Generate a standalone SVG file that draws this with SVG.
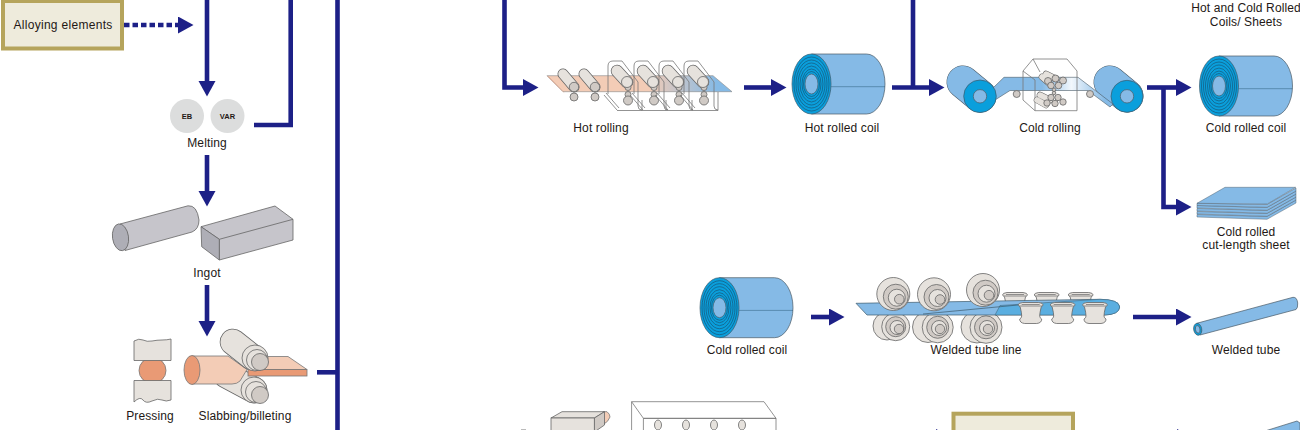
<svg xmlns="http://www.w3.org/2000/svg" xmlns:xlink="http://www.w3.org/1999/xlink" width="1300" height="430" viewBox="0 0 1300 430">
<style>
text{font-family:"Liberation Sans",Arial,sans-serif;font-size:12px;fill:#231815;text-anchor:middle;letter-spacing:.12px}
.sm{font-size:7.5px;font-weight:bold;letter-spacing:0}
.c{fill:none;stroke:#1d2087;stroke-width:4.6}
.a{marker-end:url(#h)}
.box{fill:#eeebdc;stroke:#b5a45c;stroke-width:4}
.gr{fill:#c6c5cb;stroke:#666;stroke-width:.8;stroke-linejoin:round}
.gd{fill:#aeaeb6;stroke:#666;stroke-width:.8;stroke-linejoin:round}
.lt{fill:#e6e2dd;stroke:#666;stroke-width:.8}
.rd{fill:#d0cac5;stroke:#666;stroke-width:.8}
.sa{fill:#f3ccb6;stroke:#777;stroke-width:.8;stroke-linejoin:round}
.sd{fill:#e99a75;stroke:#777;stroke-width:.8}
.bl{fill:#85bae6;stroke:#4a5a66;stroke-width:.7;stroke-linejoin:round}
.ly{fill:#85bae6;stroke:#4a5a66;stroke-width:.45;stroke-linejoin:round}
.cy{fill:#0a9fdc;stroke:#3d5a6b;stroke-width:.7}
.rg{fill:none;stroke:#1a4a66;stroke-width:.6}
.ol{fill:none;stroke:#666;stroke-linecap:round}
.il{fill:none;stroke:#e6e2dd;stroke-linecap:round}
.bo{fill:none;stroke:#4a5a66;stroke-linecap:round}
.bi{fill:none;stroke:#85bae6;stroke-linecap:round}
.fr{fill:none;stroke:#777;stroke-width:.8;stroke-linejoin:round}
</style>
<defs>
<marker id="h" markerUnits="userSpaceOnUse" markerWidth="16" markerHeight="18" refX="0" refY="8.5" orient="auto"><path d="M0,0L15.5,8.5L0,17Z" fill="#1d2087"/></marker>
<linearGradient id="hs" gradientUnits="userSpaceOnUse" x1="547" y1="0" x2="732" y2="0"><stop offset=".55" stop-color="#f3ccb6"/><stop offset=".92" stop-color="#85bae6"/></linearGradient>
<linearGradient id="cs" gradientUnits="userSpaceOnUse" x1="1000" y1="0" x2="1105" y2="0"><stop offset=".4" stop-color="#85bae6"/><stop offset=".68" stop-color="#f2f7fc"/><stop offset="1" stop-color="#85bae6"/></linearGradient>
<g id="coil">
<path class="bl" d="M0,-30H55A18.500,30 0 0 1 55,30H0Z"/>
<path class="rg" d="M19.500,2.700H73.500" stroke-opacity=".7"/>
<ellipse class="cy" rx="19.500" ry="30"/>
<ellipse class="rg" rx="17.500" ry="27"/><ellipse class="rg" rx="15.500" ry="24"/><ellipse class="rg" rx="13.500" ry="21"/><ellipse class="rg" rx="11.500" ry="18"/><ellipse class="rg" rx="9.500" ry="15"/><ellipse class="rg" rx="8" ry="12.500"/>
<ellipse class="bl" rx="6.500" ry="10"/>
</g>
<g id="stand">
<path class="fr" d="M0,33V5Q0,0 5,0H14L30,21M30,21V45Q30,49 34,49M-4,34L9,49M-2,32L11,47"/>
<path class="ol" stroke-width="12.500" d="M9,10L19,21"/><path class="il" stroke-width="11" d="M9,10L19,21"/>
<circle class="rd" cx="20" cy="26.500" r="3"/><circle class="rd" cx="20" cy="33.500" r="3"/>
<circle class="rd" cx="20" cy="39.500" r="4.500"/>
<circle class="lt" cx="19" cy="21" r="5.500"/>
</g>
<g id="wr">
<circle class="lt" r="16.500"/><circle class="rd" cx="2.500" cy="2.700" r="12.500"/><circle class="lt" cx="3.500" cy="3.700" r="8.500"/><circle class="rd" cx="6" cy="5.200" r="4.800"/>
</g>
<g id="sp">
<path class="lt" d="M-12.500,-8Q-12.500,-10 -8,-10.500H8Q12.500,-10 12.500,-8L10.500,-6Q9,0 9,3Q9,5 11,6Q11,10 6,10.500H-6Q-11,10 -11,6Q-9,5 -9,3Q-9,0 -10.500,-6Z"/>
<path class="fr" d="M-11.500,-7H11.500M-9,-8.500H9"/>
</g>
</defs>

<g id="connectors">
<path class="c a" stroke-dasharray="5.500 3" d="M124,25H178"/>
<path class="c a" d="M207,0V81"/>
<path class="c" d="M254,125H290.700V0"/>
<path class="c" d="M337.500,0V430"/>
<path class="c a" d="M207,155V191"/>
<path class="c a" d="M207,285V321"/>
<path class="c" d="M317,372.300H337.500"/>
<path class="c a" d="M504.500,0V87.500H523"/>
<path class="c a" d="M744,87.500H771"/>
<path class="c a" d="M892,87.500H929"/>
<path class="c" d="M913,0V87.500"/>
<path class="c a" d="M1147,87.500H1176"/>
<path class="c a" d="M1163.500,87.500V207H1176"/>
<path class="c a" d="M811,317H829"/>
<path class="c a" d="M1133,317H1176"/>
<path d="M936,429L951,437L936,445Z M1177,429L1192,437L1177,445Z" fill="#1d2087"/>
<path d="M521,429.500H526" stroke="#bbb" stroke-width="1"/>
</g>

<g id="alloying"><rect class="box" x="3" y="1" width="119" height="47.500"/><text x="63" y="29" style="letter-spacing:.3px">Alloying elements</text></g>

<g id="melting">
<circle cx="187" cy="116" r="17" fill="#dcdddd"/><circle cx="227.500" cy="116" r="17" fill="#dcdddd"/>
<text class="sm" x="187" y="118.700">EB</text><text class="sm" x="227.500" y="118.700">VAR</text>
<text x="207" y="147">Melting</text>
</g>

<g id="ingot">
<path class="gr" d="M120,224L188,205.800Q197,205 199,220Q199,229 192,232L125,250.500Z"/>
<ellipse class="gd" cx="120.500" cy="237.300" rx="8" ry="13.500" transform="rotate(-8 120.500 237.300)"/>
<path class="gr" d="M201,226.700L275,206L293,219.300V240L219.300,260V239.300Z"/>
<path class="gr" d="M219.300,239.300L293,219.300"/>
<path class="gd" d="M201,226.700L219.300,239.300V260L201.700,246.700Z"/>
<text x="207" y="277">Ingot</text>
</g>

<g id="pressing">
<ellipse class="sd" cx="152.500" cy="370.500" rx="13.500" ry="13"/>
<path class="lt" d="M134,341Q139,338 143,340T152,341T162,340T171,339V360.500H134Z"/>
<path class="lt" d="M134,380.500H171V400Q166,402 162,400T152,401T143,400T134,402Z"/>
<text x="150" y="420">Pressing</text>
</g>

<g id="slabbing">
<path class="ol" stroke-width="26.500" d="M226,375L254,390"/><path class="il" stroke-width="25" d="M226,375L254,390"/>
<circle class="lt" cx="254" cy="390" r="13"/><circle class="lt" cx="256" cy="392" r="10.500"/><circle class="rd" cx="260" cy="395" r="8.500"/>
<path class="sa" d="M192,356H228L247,369.500L240,381Q237,384 232,384H192Z"/>
<ellipse class="sd" cx="192" cy="370" rx="8" ry="14.500"/>
<path class="sa" d="M240,356.500H288L307,369.500H248Z"/>
<rect class="sd" x="248" y="369.500" width="59" height="6.500"/>
<path class="ol" stroke-width="26.500" d="M233,342L252,357"/><path class="il" stroke-width="25" d="M233,342L252,357"/>
<circle class="lt" cx="255" cy="358" r="13"/><circle class="lt" cx="257" cy="360" r="10.500"/><circle class="rd" cx="260" cy="362" r="8.500"/>
<text x="245" y="420">Slabbing/billeting</text>
</g>

<g id="hot-rolling">
<path d="M547,75.700H713L732,91.700H563Z" fill="url(#hs)" stroke="#888" stroke-width=".6"/>
<path d="M547,75.700L563,91.700L565,93.500L549,77Z" fill="#e0987a"/>
<path class="ol" stroke-width="11" d="M563,74L574,87"/><path class="il" stroke-width="9.500" d="M563,74L574,87"/><circle class="rd" cx="574" cy="87" r="4.700"/><circle class="rd" cx="574" cy="97" r="4"/>
<path class="ol" stroke-width="11" d="M584,74L595,87"/><path class="il" stroke-width="9.500" d="M584,74L595,87"/><circle class="rd" cx="595" cy="87" r="4.700"/><circle class="rd" cx="595" cy="97" r="4"/>
<path class="fr" d="M617,110.500H718V92M642,110.500V100M666,110.500V100M692,110.500V100"/>
<use href="#stand" xlink:href="#stand" x="608" y="61"/><use href="#stand" xlink:href="#stand" x="634" y="61"/><use href="#stand" xlink:href="#stand" x="659" y="61"/><use href="#stand" xlink:href="#stand" x="684" y="61"/>
<text x="601" y="132">Hot rolling</text>
</g>

<g id="hot-coil"><use href="#coil" xlink:href="#coil" x="811.500" y="84"/><text x="842" y="132">Hot rolled coil</text></g>

<g id="cold-rolling">
<path class="bo" stroke-width="33" d="M963,82L980,96"/><path class="bi" stroke-width="32" d="M963,82L980,96"/>
<path class="bo" stroke-width="33" d="M1110,82L1127,96"/><path class="bi" stroke-width="32" d="M1110,82L1127,96"/>
<path d="M993,88L1004,77.300H1078L1113,104L1110,107L1088,90.500H1010L995,100Z" fill="url(#cs)" stroke="#4a5a66" stroke-width=".6"/>
<circle class="rd" cx="1016.700" cy="94" r="3.500"/><circle class="rd" cx="1090" cy="94" r="3.500"/>
<circle class="cy" cx="980" cy="96.300" r="16.300"/><circle class="bl" cx="980" cy="96.300" r="6.700"/>
<circle class="cy" cx="1127" cy="96.300" r="16"/><circle class="bl" cx="1127" cy="96.300" r="6.700"/>
<path class="fr" d="M1023,71L1033,59H1067L1077,71V110.700H1035L1023,100ZM1023,71L1035,80V110.700M1040,72L1033,59"/>
<g id="cr-rolls">
<path class="ol" stroke-width="6.500" d="M1046,74L1056,79M1042,77L1050,84M1040,95L1050,100M1037,100L1046,105"/><path class="il" stroke-width="5.500" d="M1046,74L1056,79M1042,77L1050,84M1040,95L1050,100M1037,100L1046,105"/>
<circle class="rd" cx="1048" cy="81" r="3.500"/><circle class="rd" cx="1055.500" cy="78.500" r="3.500"/><circle class="rd" cx="1063" cy="80.500" r="3.500"/><circle class="rd" cx="1051" cy="85.500" r="3.300"/><circle class="rd" cx="1058.500" cy="85.500" r="3.300"/>
<circle class="rd" cx="1054" cy="89.800" r="1.800"/><circle class="rd" cx="1054" cy="93" r="1.800"/>
<circle class="rd" cx="1051" cy="97.500" r="3.200"/><circle class="rd" cx="1058" cy="97.500" r="3.200"/><circle class="rd" cx="1047" cy="103" r="3.200"/><circle class="rd" cx="1055" cy="103.500" r="3.200"/><circle class="rd" cx="1063" cy="102" r="3.200"/>
</g>
<text x="1050" y="132">Cold rolling</text>
</g>

<g id="output-label"><text x="1246" y="12">Hot and Cold Rolled</text><text x="1246" y="26">Coils/ Sheets</text></g>

<g id="cold-coil"><use href="#coil" xlink:href="#coil" x="1219" y="86"/><text x="1246" y="132">Cold rolled coil</text></g>

<g id="cut-sheet">
<path class="ly" d="M1197,217L1267,219.300L1296,203V200L1267,216.500L1197,214.500Z"/>
<path class="ly" d="M1197,214L1267,216.300L1296,200V197L1267,213.500L1197,211.500Z"/>
<path class="ly" d="M1197,211L1267,213.300L1296,197V194L1267,210.500L1197,208.500Z"/>
<path class="ly" d="M1197,208L1267,210.300L1296,194V191L1267,207.500L1197,205.500Z"/>
<path class="ly" d="M1197,205.500L1267,207.300L1296,191V188L1267,204.500L1197,203.300Z"/>
<path class="ly" d="M1197,203.300L1225,187.300H1295.700L1267.300,204Z"/>
<text x="1246" y="236">Cold rolled</text><text x="1246" y="249">cut-length sheet</text>
</g>

<g id="strip-coil"><use href="#coil" xlink:href="#coil" x="719.500" y="307.700"/><text x="747" y="354">Cold rolled coil</text></g>

<g id="welded-line">
<circle class="lt" cx="887" cy="326" r="14"/><circle class="lt" cx="928" cy="327" r="15.500"/><circle class="lt" cx="977" cy="327" r="16"/>
<g class="lower"><circle class="lt" cx="895.700" cy="326.700" r="14"/><circle class="rd" cx="895.700" cy="326.700" r="10"/><circle class="lt" cx="897" cy="327.500" r="7"/><circle class="rd" cx="899" cy="329" r="4.700"/></g>
<g class="lower"><circle class="lt" cx="937.700" cy="327.300" r="15.500"/><circle class="rd" cx="937.700" cy="327.300" r="11"/><circle class="lt" cx="939" cy="328" r="7.500"/><circle class="rd" cx="940" cy="329" r="4.700"/></g>
<g class="lower"><circle class="lt" cx="986" cy="327.300" r="16"/><circle class="rd" cx="986" cy="327.300" r="11.500"/><circle class="lt" cx="987" cy="328" r="7.500"/><circle class="rd" cx="988" cy="329" r="4.700"/></g>
<use href="#sp" xlink:href="#sp" x="1015" y="303"/><use href="#sp" xlink:href="#sp" x="1046.700" y="303"/><use href="#sp" xlink:href="#sp" x="1080.700" y="303"/>
<path d="M856,303.300L965,301.500L1100,299.300Q1119,299.500 1119.700,307Q1119,314.500 1105,315H867Z" fill="#85bae6" stroke="#3d5a6b" stroke-width=".7"/>
<path d="M1000,305.500L1100,299.300Q1119,299.500 1119.700,307Q1119,314.500 1105,315H995Z" fill="#5aaee0" stroke="#3d5a6b" stroke-width=".5"/>
<path d="M923,314L1018,305" fill="none" stroke="#3d5a6b" stroke-width=".7"/>
<use href="#wr" xlink:href="#wr" x="893.300" y="294"/>
<use href="#wr" xlink:href="#wr" x="934" y="294.300"/>
<use href="#wr" xlink:href="#wr" x="983" y="290"/>
<use href="#sp" xlink:href="#sp" x="1030.700" y="313"/><use href="#sp" xlink:href="#sp" x="1062.700" y="313"/><use href="#sp" xlink:href="#sp" x="1095" y="313"/>
<text x="976" y="354">Welded tube line</text>
</g>

<g id="welded-tube">
<path class="bl" d="M1196.700,323.300L1293,297.300Q1297,297 1297.700,303Q1298,308 1296,309.500L1200,335Z"/>
<ellipse class="cy" cx="1197.700" cy="329.300" rx="4" ry="6" transform="rotate(-10 1197.700 329.300)"/><ellipse class="bl" cx="1197.700" cy="329.300" rx="2.300" ry="3.800" transform="rotate(-10 1197.700 329.300)"/>
<text x="1246" y="354">Welded tube</text>
</g>

<g id="press-block">
<path class="sa" d="M603,411.700H607Q610,414 610,417Q608,422 604,424Z"/>
<path class="lt" d="M551,418L562,411.700H604.500L594.400,418Z"/>
<rect class="lt" x="551" y="418" width="43.400" height="14"/>
<path class="rd" d="M594.400,418L604.500,411.700V425L594.400,432Z"/>
</g>

<g id="mill-frame">
<path class="fr" d="M631.600,432V401.700H764L776,418.300V432M631.600,401.700L643.400,418.300V432"/>
<path d="M643.400,418.300H776" stroke="#666" stroke-width="1"/>
<g class="lt"><ellipse cx="658" cy="425" rx="3.500" ry="5"/><ellipse cx="686" cy="425" rx="3.500" ry="5"/><ellipse cx="714" cy="425" rx="3.500" ry="5"/><ellipse cx="742" cy="425" rx="3.500" ry="5"/></g>
</g>

<g id="lower-box"><rect class="box" x="953.500" y="413.700" width="119.500" height="30"/></g>

<g id="lower-tube"><path class="bl" d="M1265,431L1297,421L1300,423V431Z"/></g>
</svg>
